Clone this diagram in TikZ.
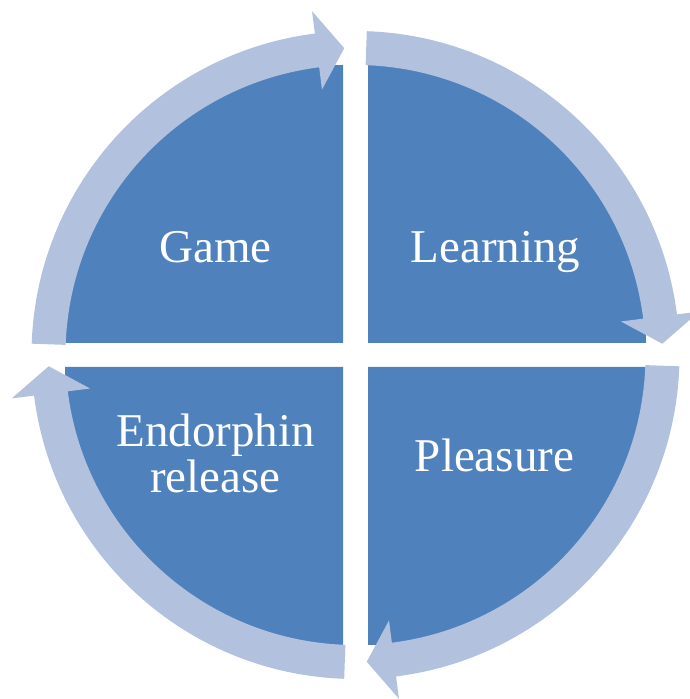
\documentclass[tikz,border=0pt]{standalone}
\usepackage{fontspec}
\setmainfont{Liberation Serif}
\definecolor{sectorblue}{HTML}{4F81BD}
\definecolor{ringblue}{HTML}{B2C1DD}
\tikzset{
  sector/.style={fill=sectorblue},
  ringarrow/.style={fill=ringblue},
  label/.style={text=white, inner sep=0pt, anchor=base, align=center,
    font=\fontsize{47}{46}\selectfont}
}
\begin{document}
\begin{tikzpicture}[x=1pt,y=1pt]
\useasboundingbox (0,0) rectangle (690,699);
\coordinate (C) at (355.5,344);
% sectors
\fill[sector] (343,356) -- ++(180:278) arc[start angle=180,end angle=90,radius=278] -- cycle;
\fill[sector] (368,356) -- ++(90:278) arc[start angle=90,end angle=0,radius=278] -- cycle;
\fill[sector] (368,332) -- ++(0:278) arc[start angle=0,end angle=-90,radius=278] -- cycle;
\fill[sector] (343,332) -- ++(-90:278) arc[start angle=-90,end angle=-180,radius=278] -- cycle;
% ring arrows
\foreach \r in {0,-90,-180,-270}{
  \begin{scope}[rotate around={\r:(C)}]
    \fill[ringarrow] ([shift={(C)}]178:324) arc[start angle=178,end angle=97.2,radius=324]
      -- ([shift={(C)}]97.2:346.5) -- ([shift={(C)}]92.1:307) -- ([shift={(C)}]97.2:267.5)
      -- ([shift={(C)}]97.2:290) arc[start angle=97.2,end angle=178,radius=290] -- cycle;
  \end{scope}
}
% labels
\node[label] (game) at (215.5,436) {Game};
\node[label] (learning) at (495.5,436) {Learning};
\node[label] (pleasure) at (494.5,227) {Pleasure};
\node[label] (endorphin) at (215.5,206) {Endorphin\\release};
\end{tikzpicture}
\end{document}
